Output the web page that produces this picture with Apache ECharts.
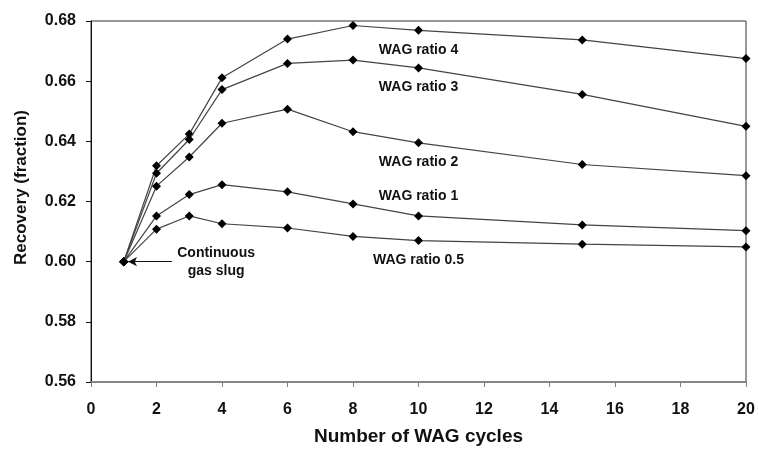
<!DOCTYPE html>
<html>
<head>
<meta charset="utf-8">
<script src="https://cdn.jsdelivr.net/npm/echarts@6/dist/echarts.min.js"></script>
<style>html,body{margin:0;padding:0;background:#fff}#c{width:758px;height:450px}</style>
</head>
<body>
<div id="c"></div>
<script>
const cycles = [1, 2, 3, 4, 6, 8, 10, 15, 20];
const wag4  = [0.600, 0.6319, 0.6424, 0.6611, 0.6740, 0.6785, 0.6769, 0.6737, 0.6675];
const wag3  = [0.600, 0.6294, 0.6406, 0.6572, 0.6659, 0.6670, 0.6644, 0.6556, 0.6450];
const wag2  = [0.600, 0.6251, 0.6348, 0.6460, 0.6507, 0.6432, 0.6395, 0.6323, 0.6286];
const wag1  = [0.600, 0.6152, 0.6223, 0.6256, 0.6232, 0.6192, 0.6152, 0.6122, 0.6103];
const wag05 = [0.600, 0.6108, 0.6152, 0.6126, 0.6112, 0.6084, 0.6070, 0.6058, 0.6049];
const seriesNames = ['WAG ratio 4', 'WAG ratio 3', 'WAG ratio 2', 'WAG ratio 1', 'WAG ratio 0.5'];
const labelAt = 10;
const labelSide = ['bottom', 'bottom', 'bottom', 'top', 'bottom'];
const xTicks = [0, 2, 4, 6, 8, 10, 12, 14, 16, 18, 20];
const yTicks = [0.56, 0.58, 0.60, 0.62, 0.64, 0.66, 0.68];
const noteText = 'Continuous\ngas slug';
const noteAt = [3.82, 0.60];
const arrowFrom = [2.47, 0.60];
const arrowTo = [1.13, 0.60];

const FONT = 'Arial, "Liberation Sans", sans-serif';
const all = [wag4, wag3, wag2, wag1, wag05];

const series = all.map((vals, i) => ({
  name: seriesNames[i],
  type: 'line',
  data: cycles.map((c, j) => {
    const p = { value: [c, vals[j]] };
    if (c === labelAt) {
      p.label = {
        show: true, position: labelSide[i], distance: 8,
        formatter: seriesNames[i],
        fontFamily: FONT, fontWeight: 'bold', fontSize: 14, color: '#111'
      };
    }
    return p;
  }),
  symbol: 'diamond',
  symbolSize: 9,
  itemStyle: { color: '#000' },
  lineStyle: { color: '#444', width: 1.2 },
  z: 3 + i,
  animation: false
}));

series.push({
  type: 'line',
  data: [],
  markLine: {
    silent: true,
    symbol: ['none', 'arrow'],
    symbolSize: [7, 9],
    lineStyle: { color: '#111', width: 1, type: 'solid' },
    label: { show: false },
    data: [[{ coord: arrowFrom }, { coord: arrowTo }]]
  },
  markPoint: {
    silent: true,
    symbol: 'circle',
    symbolSize: 0,
    label: {
      show: true, position: 'inside', formatter: noteText,
      fontFamily: FONT, fontWeight: 'bold', fontSize: 14, lineHeight: 18,
      color: '#111', align: 'center'
    },
    data: [{ coord: noteAt }]
  },
  animation: false
});

const chart = echarts.init(document.getElementById('c'), null, { renderer: 'canvas' });
chart.setOption({
  backgroundColor: '#fff',
  animation: false,
  grid: { left: 91, right: 12, top: 21, bottom: 68, show: true, borderColor: '#333', borderWidth: 1,
    containLabel: false, outerBoundsMode: 'none' },
  xAxis: {
    type: 'value', min: xTicks[0], max: xTicks[xTicks.length - 1], interval: 2,
    name: 'Number of WAG cycles', nameLocation: 'middle', nameGap: 45,
    nameTextStyle: { fontFamily: FONT, fontWeight: 'bold', fontSize: 19, color: '#111' },
    axisLine: { show: true, lineStyle: { color: '#808080', width: 1.5 } },
    axisTick: { show: true, length: 5, inside: false, lineStyle: { color: '#808080' } },
    axisLabel: { fontFamily: FONT, fontWeight: 'bold', fontSize: 16, color: '#111', margin: 20 },
    splitLine: { show: false }
  },
  yAxis: {
    type: 'value', min: yTicks[0], max: yTicks[yTicks.length - 1], interval: 0.02,
    name: 'Recovery (fraction)', nameLocation: 'middle', nameGap: 61,
    nameTextStyle: { fontFamily: FONT, fontWeight: 'bold', fontSize: 17, color: '#111',
      padding: [0, 0, 0, 28] },
    axisLine: { show: true, lineStyle: { color: '#111', width: 1 } },
    axisTick: { show: true, length: 5, inside: false, lineStyle: { color: '#111' } },
    axisLabel: { fontFamily: FONT, fontWeight: 'bold', fontSize: 16, color: '#111', margin: 15,
      formatter: v => v.toFixed(2) },
    splitLine: { show: false }
  },
  series: series
});
</script>
</body>
</html>
